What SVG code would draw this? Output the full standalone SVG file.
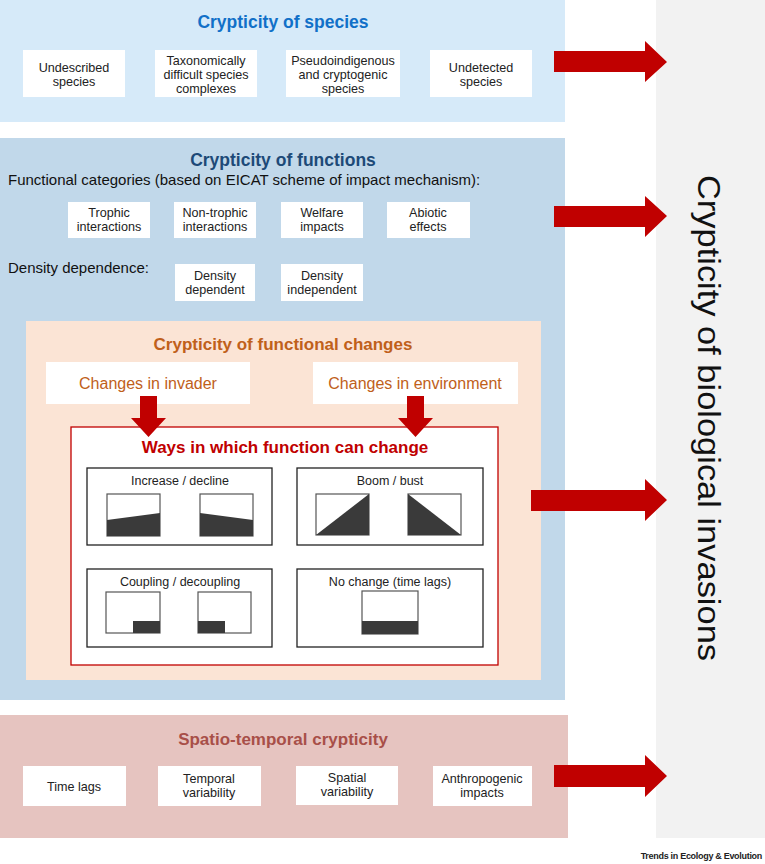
<svg xmlns="http://www.w3.org/2000/svg" width="765" height="864" viewBox="0 0 765 864">
<defs>
<style>
text{font-family:"Liberation Sans",Arial,sans-serif;}
.box{fill:#ffffff;}
.bt{font-size:12.6px;fill:#222;text-anchor:middle;}
.arrow{fill:#c00000;}
.chart{fill:#ffffff;stroke:#555;stroke-width:1.2;}
.fill{fill:#3a3a3a;}
.ibox{fill:#ffffff;stroke:#222;stroke-width:1.3;}
.it{font-size:12.5px;fill:#222;text-anchor:middle;}
</style>
</defs>
<rect width="765" height="864" fill="#ffffff"/>
<g id="gray-panel">
<rect x="656" y="0" width="109" height="838" fill="#f2f2f2"/>
<text transform="translate(698,418) rotate(90)" font-size="31" text-anchor="middle" fill="#111" textLength="486" lengthAdjust="spacingAndGlyphs">Crypticity of biological invasions</text>
</g>
<g id="species-panel">
<rect x="0" y="0" width="565" height="122" fill="#d6eaf9"/>
<text x="283" y="28" font-size="17.5" font-weight="bold" fill="#1170c8" text-anchor="middle">Crypticity of species</text>
</g>
<g id="undescribed"><rect class="box" x="23" y="50" width="102" height="47"/><text class="bt" x="74" y="72">Undescribed</text><text class="bt" x="74" y="86">species</text></g>
<g id="taxonomically"><rect class="box" x="155" y="50" width="102" height="47"/><text class="bt" x="206" y="65">Taxonomically</text><text class="bt" x="206" y="79">difficult species</text><text class="bt" x="206" y="93">complexes</text></g>
<g id="pseudoindigenous"><rect class="box" x="286" y="50" width="114" height="47"/><text class="bt" x="343" y="65">Pseudoindigenous</text><text class="bt" x="343" y="79">and cryptogenic</text><text class="bt" x="343" y="93">species</text></g>
<g id="undetected"><rect class="box" x="430" y="50" width="102" height="47"/><text class="bt" x="481" y="72">Undetected</text><text class="bt" x="481" y="86">species</text></g>

<g id="functions-panel">
<rect x="0" y="138" width="565" height="562" fill="#c1d8ea"/>
<text x="283" y="166" font-size="17.5" font-weight="bold" fill="#1d4a78" text-anchor="middle">Crypticity of functions</text>
<text x="8" y="185" font-size="15" fill="#111">Functional categories (based on EICAT scheme of impact mechanism):</text>
<text x="8" y="273" font-size="15" fill="#111">Density dependence:</text>
</g>
<g id="trophic"><rect class="box" x="68" y="202" width="82" height="36"/><text class="bt" x="109" y="217">Trophic</text><text class="bt" x="109" y="231">interactions</text></g>
<g id="nontrophic"><rect class="box" x="174" y="202" width="82" height="36"/><text class="bt" x="215" y="217">Non-trophic</text><text class="bt" x="215" y="231">interactions</text></g>
<g id="welfare"><rect class="box" x="281" y="202" width="82" height="36"/><text class="bt" x="322" y="217">Welfare</text><text class="bt" x="322" y="231">impacts</text></g>
<g id="abiotic"><rect class="box" x="387" y="202" width="83" height="36"/><text class="bt" x="428" y="217">Abiotic</text><text class="bt" x="428" y="231">effects</text></g>
<g id="density-dependent"><rect class="box" x="175" y="264" width="80" height="37"/><text class="bt" x="215" y="280">Density</text><text class="bt" x="215" y="294">dependent</text></g>
<g id="density-independent"><rect class="box" x="281" y="264" width="82" height="37"/><text class="bt" x="322" y="280">Density</text><text class="bt" x="322" y="294">independent</text></g>

<g id="functional-changes-panel">
<rect x="26" y="321" width="515" height="359" fill="#fbe4d5"/>
<text x="283" y="350" font-size="17" font-weight="bold" fill="#c0601a" text-anchor="middle">Crypticity of functional changes</text>
</g>
<g id="changes-invader"><rect class="box" x="46" y="362" width="204" height="42"/><text x="148" y="389" font-size="16" fill="#c0601a" text-anchor="middle">Changes in invader</text></g>
<g id="changes-environment"><rect class="box" x="313" y="362" width="205" height="42"/><text x="415" y="389" font-size="16" fill="#c0601a" text-anchor="middle">Changes in environment</text></g>

<g id="ways">
<rect x="71" y="427" width="427" height="238" fill="#ffffff" stroke="#c00000" stroke-width="1.3"/>
<text x="285" y="453" font-size="17" font-weight="bold" fill="#c00000" text-anchor="middle">Ways in which function can change</text>
</g>
<g id="increase-decline">
<rect class="ibox" x="87" y="468" width="185" height="77"/>
<text class="it" x="180" y="485">Increase / decline</text>
<rect class="chart" x="107" y="494" width="53" height="42"/>
<polygon class="fill" points="107,520 160,513 160,536 107,536"/>
<rect class="chart" x="200" y="494" width="53" height="42"/>
<polygon class="fill" points="200,513 253,520 253,536 200,536"/>
</g>
<g id="boom-bust">
<rect class="ibox" x="297" y="468" width="186" height="77"/>
<text class="it" x="390" y="485">Boom / bust</text>
<rect class="chart" x="316" y="494" width="53" height="41"/>
<polygon class="fill" points="316,535 369,494 369,535"/>
<rect class="chart" x="408" y="494" width="53" height="41"/>
<polygon class="fill" points="408,494 461,535 408,535"/>
</g>
<g id="coupling">
<rect class="ibox" x="87" y="569" width="185" height="78"/>
<text class="it" x="180" y="586">Coupling / decoupling</text>
<rect class="chart" x="106" y="592" width="54" height="41"/>
<rect class="fill" x="133" y="621" width="27" height="12"/>
<rect class="chart" x="198" y="592" width="53" height="41"/>
<rect class="fill" x="198" y="621" width="27" height="12"/>
</g>
<g id="no-change">
<rect class="ibox" x="297" y="569" width="186" height="78"/>
<text class="it" x="390" y="586">No change (time lags)</text>
<rect class="chart" x="362" y="591" width="56" height="43"/>
<rect class="fill" x="362" y="621" width="56" height="13"/>
</g>

<g id="spatio-panel">
<rect x="0" y="715" width="568" height="123" fill="#e6c4c0"/>
<text x="283" y="745" font-size="17" font-weight="bold" fill="#a84f48" text-anchor="middle">Spatio-temporal crypticity</text>
</g>
<g id="time-lags"><rect class="box" x="23" y="766" width="103" height="40"/><text class="bt" x="74" y="791">Time lags</text></g>
<g id="temporal"><rect class="box" x="158" y="766" width="103" height="40"/><text class="bt" x="209" y="783">Temporal</text><text class="bt" x="209" y="797">variability</text></g>
<g id="spatial"><rect class="box" x="296" y="766" width="102" height="39"/><text class="bt" x="347" y="782">Spatial</text><text class="bt" x="347" y="796">variability</text></g>
<g id="anthropogenic"><rect class="box" x="433" y="766" width="99" height="40"/><text class="bt" x="482" y="783">Anthropogenic</text><text class="bt" x="482" y="797">impacts</text></g>

<g id="connectors">
<polygon class="arrow" points="554,51 645,51 645,41 667,62 645,82 645,72 554,72"/>
<polygon class="arrow" points="554,206 645,206 645,196 667,216 645,237 645,227 554,227"/>
<polygon class="arrow" points="531,490 645,490 645,479 667,500 645,521 645,511 531,511"/>
<polygon class="arrow" points="554,765 645,765 645,755 667,776 645,797 645,787 554,787"/>
<polygon class="arrow" points="140,396 157,396 157,418 166,418 148.5,437 131,418 140,418"/>
<polygon class="arrow" points="407,396 424,396 424,418 433,418 415.5,437 398,418 407,418"/>
</g>
<text x="762" y="859" font-size="9" font-weight="bold" fill="#222" text-anchor="end" letter-spacing="-0.3">Trends in Ecology &amp; Evolution</text>
</svg>
